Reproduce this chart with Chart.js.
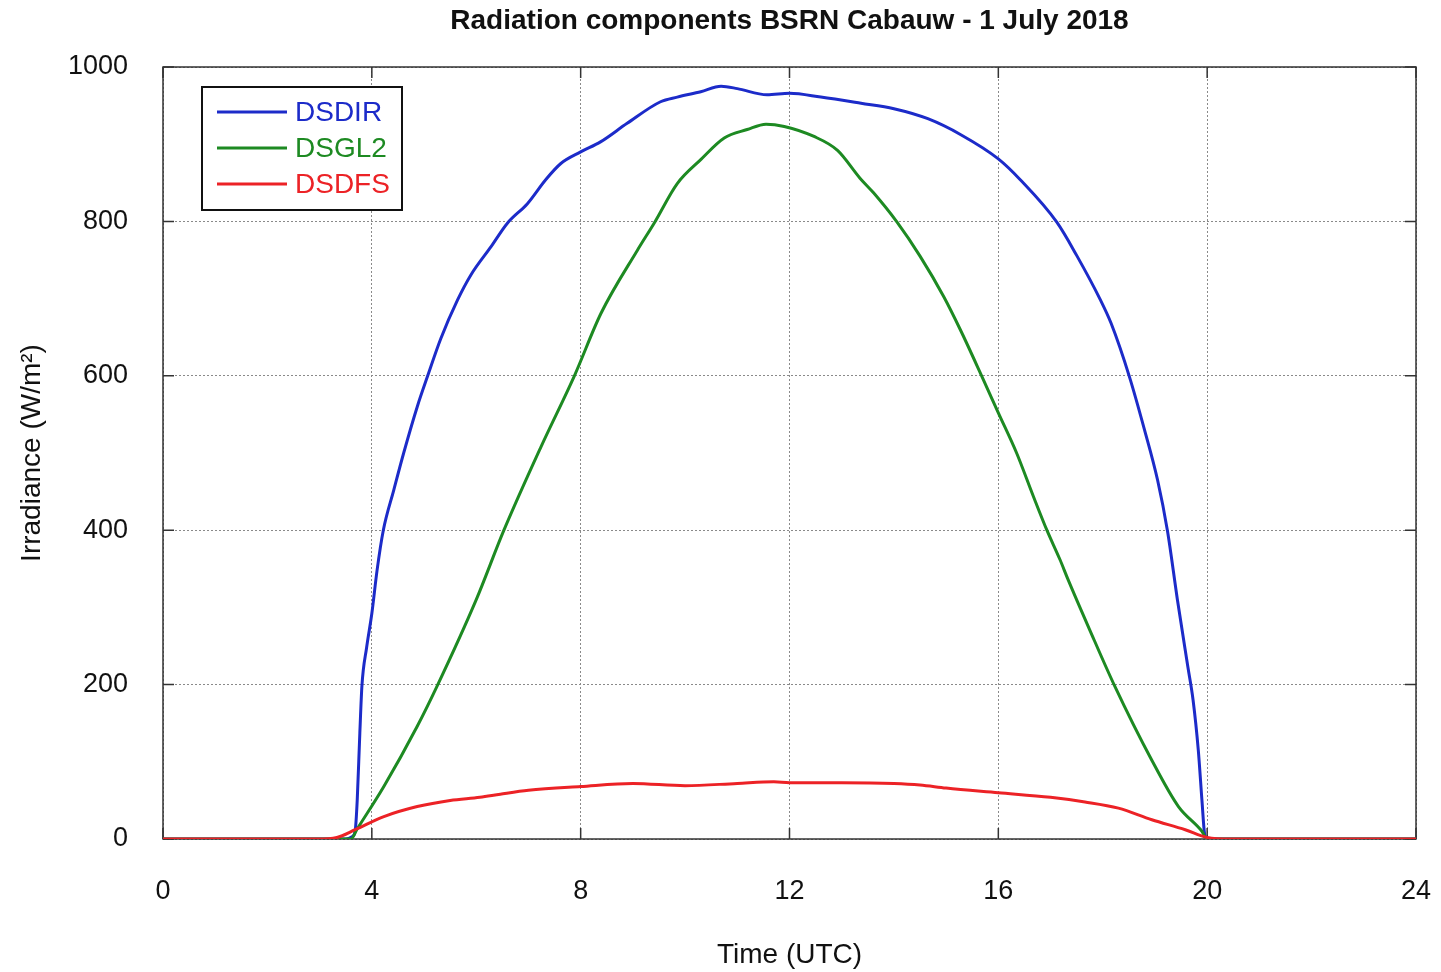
<!DOCTYPE html>
<html>
<head>
<meta charset="utf-8">
<script src="https://cdn.jsdelivr.net/npm/chart.js@4.4.1/dist/chart.umd.min.js"></script>
<style>
  html, body { margin: 0; padding: 0; background: #fff; }
  canvas { display: block; }
</style>
</head>
<body>
<canvas id="chart" width="1441" height="972"></canvas>
<script>
const TITLE = "Radiation components BSRN Cabauw - 1 July 2018";
const X_TICKS = [0, 4, 8, 12, 16, 20, 24];
const Y_TICKS = [0, 200, 400, 600, 800, 1000];

// DSDIR (blue)
const dirHours = [0, 3.5, 3.62, 3.68, 3.72, 3.77, 3.81, 3.9, 4.0, 4.1, 4.22, 4.42, 4.61, 4.87, 5.07, 5.32, 5.64, 5.9, 6.28, 6.6, 6.98, 7.33, 7.62, 8.0, 8.38, 8.89, 9.53, 9.85, 10.3, 10.69, 11.0, 11.57, 12.0, 12.6, 13.37, 14.0, 14.65, 15.29, 16.0, 16.42, 17.12, 17.5, 17.95, 18.16, 18.51, 18.8, 19.05, 19.24, 19.43, 19.63, 19.73, 19.83, 19.9, 19.95, 20.0, 24];
const dirValues = [0, 0, 3, 10, 50, 137, 198, 248, 292, 348, 400, 452, 500, 560, 600, 648, 698, 731, 767, 798, 823, 854, 875, 890, 903, 927, 955, 961, 968, 975, 972, 964, 966, 961, 953, 946, 933, 912, 881, 854, 799, 756, 699, 668, 599, 530, 465, 399, 310, 223, 180, 115, 50, 7, 0, 0];

// DSGL2 (green)
const glHours = [0, 3.6, 3.71, 4.23, 4.87, 5.25, 6.0, 6.53, 7.24, 7.88, 8.39, 9.09, 9.41, 9.85, 10.3, 10.75, 11.19, 11.55, 11.9, 12.47, 12.92, 13.35, 13.61, 14.06, 14.5, 14.95, 15.27, 15.68, 16.0, 16.35, 16.67, 16.93, 17.18, 17.33, 17.75, 18.23, 18.94, 19.45, 19.9, 20.0, 24];
const glValues = [0, 0, 12, 68, 146, 198, 310, 400, 508, 600, 681, 763, 798, 849, 880, 908, 919, 926, 923, 910, 892, 856, 837, 799, 755, 703, 660, 600, 552, 500, 444, 400, 362, 337, 271, 198, 102, 42, 10, 0, 0];

// DSDFS (red)
const dfsHours = [0, 2.95, 3.33, 3.68, 4.23, 4.87, 5.5, 6.07, 6.46, 7.0, 8.0, 9.0, 10.0, 11.0, 11.7, 12.0, 13.0, 14.0, 14.5, 15.0, 16.0, 17.0, 17.66, 18.3, 18.94, 19.58, 20.0, 20.45, 24];
const dfsValues = [0, 0, 2, 12, 29, 42, 50, 54, 58, 63, 68, 72, 69, 72, 74, 73, 73, 72, 70, 66, 60, 54, 48, 40, 25, 12, 2, 0, 0];

const SERIES = [
  { label: "DSDIR", color: "#1c2bc9", hours: dirHours, values: dirValues, order: 3 },
  { label: "DSGL2", color: "#1d8a22", hours: glHours, values: glValues, order: 2 },
  { label: "DSDFS", color: "#ec2226", hours: dfsHours, values: dfsValues, order: 1 },
];

const FONT = "'Liberation Sans', Arial, Helvetica, sans-serif";

const toPoints = (hs, vs) => hs.map((h, i) => ({ x: h, y: vs[i] }));

// frame, inner tick marks, title and legend box
const framePlugin = {
  id: "frame",
  beforeDatasetsDraw(chart) {
    const { ctx, chartArea: a, scales } = chart;
    ctx.save();
    ctx.strokeStyle = "#333";
    ctx.lineWidth = 1.5;
    ctx.beginPath();
    X_TICKS.forEach((t) => {
      const x = scales.x.getPixelForValue(t);
      ctx.moveTo(x, a.bottom); ctx.lineTo(x, a.bottom - 11);
      ctx.moveTo(x, a.top); ctx.lineTo(x, a.top + 11);
    });
    Y_TICKS.forEach((t) => {
      const y = scales.y.getPixelForValue(t);
      ctx.moveTo(a.left, y); ctx.lineTo(a.left + 11, y);
      ctx.moveTo(a.right, y); ctx.lineTo(a.right - 11, y);
    });
    ctx.stroke();
    ctx.strokeRect(a.left, a.top, a.right - a.left, a.bottom - a.top);
    ctx.restore();
  },
  afterDraw(chart) {
    const { ctx, chartArea: a } = chart;
    ctx.save();
    // title, centred on the plot area
    ctx.fillStyle = "#111";
    ctx.font = "bold 28px " + FONT;
    ctx.textAlign = "center";
    ctx.textBaseline = "middle";
    ctx.fillText(TITLE, (a.left + a.right) / 2, 21);

    // legend
    const bx = a.left + 39, by = a.top + 20, bw = 200, bh = 123;
    ctx.fillStyle = "#fff";
    ctx.fillRect(bx, by, bw, bh);
    ctx.strokeStyle = "#111";
    ctx.lineWidth = 2;
    ctx.strokeRect(bx, by, bw, bh);
    ctx.font = "28px " + FONT;
    ctx.textAlign = "left";
    SERIES.forEach((s, i) => {
      const y = by + 25 + i * 36;
      ctx.strokeStyle = s.color;
      ctx.lineWidth = 3;
      ctx.beginPath();
      ctx.moveTo(bx + 15, y); ctx.lineTo(bx + 85, y);
      ctx.stroke();
      ctx.fillStyle = s.color;
      ctx.fillText(s.label, bx + 93, y + 1);
    });
    ctx.restore();
  },
};

const ctx = document.getElementById("chart");
new Chart(ctx, {
  type: "line",
  data: {
    datasets: SERIES.map((s) => ({
      label: s.label,
      data: toPoints(s.hours, s.values),
      borderColor: s.color,
      borderWidth: 3,
      pointRadius: 0,
      cubicInterpolationMode: "monotone",
      fill: false,
      order: s.order,
    })),
  },
  options: {
    responsive: false,
    animation: false,
    layout: { padding: { left: 0, right: 0, top: 67, bottom: 0 } },
    plugins: { legend: { display: false }, title: { display: false }, tooltip: { enabled: false } },
    scales: {
      x: {
        type: "linear",
        min: 0, max: 24,
        afterFit: (s) => { s.height = 133; s.paddingLeft = 0; s.paddingRight = 25; },
        afterBuildTicks: (s) => { s.ticks = X_TICKS.map((v) => ({ value: v })); },
        ticks: { color: "#111", font: { family: FONT, size: 27 }, padding: 36, maxRotation: 0, callback: (v) => String(v) },
        grid: { color: "#8a8a8a", lineWidth: 1, drawTicks: false },
        border: { display: false, dash: [2, 2] },
        title: { display: true, text: "Time (UTC)", color: "#111", font: { family: FONT, size: 28 }, padding: { top: 0, bottom: 0 } },
      },
      y: {
        min: 0, max: 1000,
        afterFit: (s) => { s.width = 163; },
        afterBuildTicks: (s) => { s.ticks = Y_TICKS.map((v) => ({ value: v })); },
        ticks: { color: "#111", font: { family: FONT, size: 27 }, padding: 35, callback: (v) => String(v) },
        grid: { color: "#8a8a8a", lineWidth: 1, drawTicks: false },
        border: { display: false, dash: [2, 2] },
        title: { display: true, text: "Irradiance (W/m²)", color: "#111", font: { family: FONT, size: 28 }, padding: { top: 15, bottom: 0 } },
      },
    },
  },
  plugins: [framePlugin],
});
</script>
</body>
</html>
